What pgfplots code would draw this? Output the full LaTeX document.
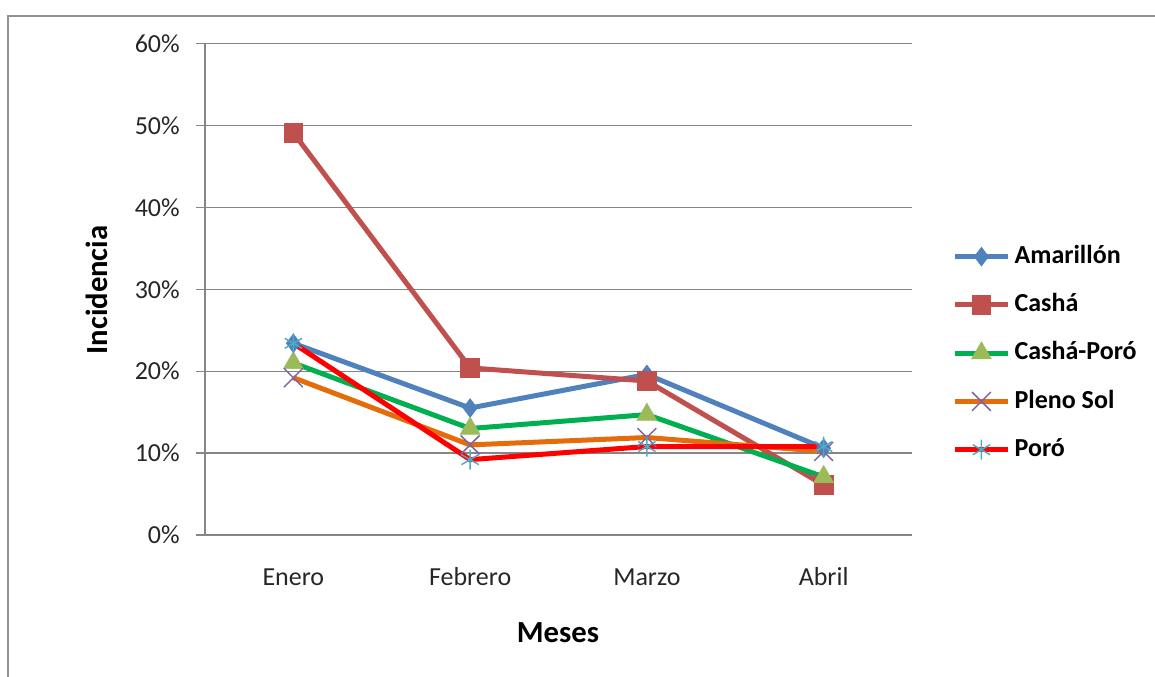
\documentclass[border=0pt]{standalone}
\usepackage{pgfplots}
\pgfplotsset{compat=1.18}
\usepackage{fontspec}
\setmainfont{Carlito}
\definecolor{cBlue}{HTML}{4F81BD}
\definecolor{cRed}{HTML}{C0504D}
\definecolor{cGreen}{HTML}{00B050}
\definecolor{cOlive}{HTML}{9BBB59}
\definecolor{cOrange}{HTML}{E46C0A}
\definecolor{cPurple}{HTML}{8064A2}
\definecolor{cCyan}{HTML}{4BACC6}
\definecolor{cGrid}{HTML}{868686}
\definecolor{cText}{HTML}{262626}
\begin{document}
\begin{tikzpicture}
\useasboundingbox (0,0) rectangle (866.25pt,507.75pt);
\draw[color=cGrid!90, line width=1.9pt] (6pt,0pt) -- (6pt,495.75pt) -- (866.25pt,495.75pt);
\begin{axis}[
  at={(153.75pt,106.5pt)}, anchor=south west,
  scale only axis, width=530.25pt, height=368.6pt,
  xmin=-0.5, xmax=3.5, ymin=0, ymax=60,
  xtick={0,1,2,3}, xticklabels={Enero,Febrero,Marzo,Abril},
  ytick={0,10,20,30,40,50,60},
  yticklabel={\pgfmathprintnumber{\tick}\%},
  /pgf/number format/assume math mode=true,
  axis x line*=bottom, axis y line*=left,
  axis line style={cGrid, line width=1pt, -},
  ymajorgrids, grid style={cGrid, line width=1pt},
  y tick style={cGrid, line width=1pt}, tick align=outside,
  major tick length=6.75pt,
  x tick style={draw=none}, 
  ticklabel style={font=\fontsize{19.5pt}{23pt}\selectfont, text=cText},
  yticklabel style={anchor=east, inner sep=0pt, xshift=-12pt},
  xticklabel style={anchor=base, inner sep=0pt, yshift=-31pt},
  clip=false,
  legend cell align=left,
  legend style={draw=none, fill=none, at={(1,0.370)}, anchor=west, xshift=27pt,
    font=\bfseries\fontsize{19.5pt}{23pt}\selectfont, row sep=18.2pt,
    nodes={inner xsep=3pt, inner ysep=0pt, text height=14pt, text depth=4pt}},
  legend image code/.code={\draw[mark repeat=2,mark phase=2] plot coordinates {(0pt,0pt)(20pt,0pt)(40pt,0pt)};},
  every axis plot/.append style={line width=3.75pt},
]
\addplot[cBlue, mark=diamond*, mark size=7pt, mark options={fill=cBlue, draw=cBlue, line width=0.5pt}]
  coordinates {(0,23.4) (1,15.5) (2,19.6) (3,10.6)};
\addlegendentry{Amarillón}
\addplot[cRed, mark=square*, mark size=7pt, mark options={fill=cRed, draw=cRed, line width=0.5pt}]
  coordinates {(0,49.1) (1,20.4) (2,18.8) (3,6.1)};
\addlegendentry{Cashá}
\addplot[cGreen, mark=triangle*, mark size=8.5pt, mark options={fill=cOlive, draw=cOlive, line width=0.5pt}]
  coordinates {(0,21.0) (1,13.0) (2,14.7) (3,7.1)};
\addlegendentry{Cashá-Poró}
\addplot[cOrange, mark=x, mark size=10pt, mark options={draw=cPurple, line width=1.1pt}]
  coordinates {(0,19.2) (1,11.0) (2,11.9) (3,10.2)};
\addlegendentry{Pleno Sol}
\addplot[red, mark=asterisk, mark size=7.5pt, mark options={draw=cCyan, line width=1.1pt}]
  coordinates {(0,23.4) (1,9.2) (2,10.8) (3,10.8)};
\addlegendentry{Poró}
\end{axis}
\node[rotate=90, font=\bfseries\fontsize{23pt}{27pt}\selectfont, text=black] at (72.75pt,290.25pt) {Incidencia};
\node[font=\bfseries\fontsize{23pt}{27pt}\selectfont, text=black] at (418.5pt,33pt) {Meses};
\end{tikzpicture}
\end{document}
